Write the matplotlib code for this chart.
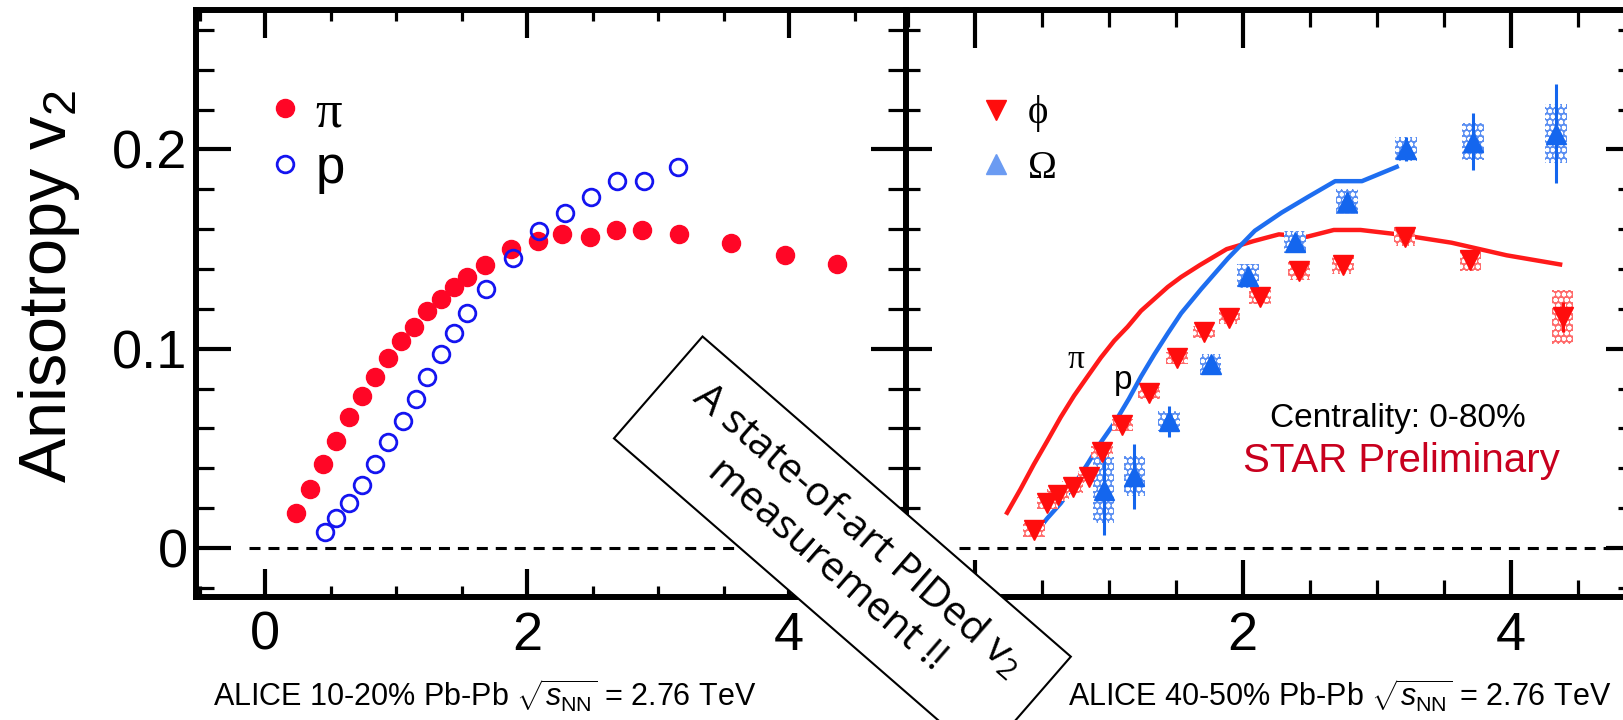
import matplotlib
matplotlib.use("Agg")
import matplotlib.pyplot as plt
from matplotlib.lines import Line2D
from matplotlib.patches import Rectangle
from matplotlib.transforms import IdentityTransform
from matplotlib.ticker import MultipleLocator

plt.rcParams['font.family'] = ['Liberation Sans', 'DejaVu Sans']
plt.rcParams['mathtext.fontset'] = 'custom'
plt.rcParams['mathtext.rm'] = 'Liberation Sans'
plt.rcParams['mathtext.it'] = 'Liberation Sans:italic'
plt.rcParams['mathtext.bf'] = 'Liberation Sans:bold'
plt.rcParams['hatch.linewidth'] = 1.3

# ALICE identified-particle v2 (10-20%)
pt_pi = [0.24, 0.34, 0.44, 0.54, 0.64, 0.74, 0.84, 0.94, 1.04, 1.14, 1.24, 1.34, 1.44,
         1.54, 1.68, 1.88, 2.08, 2.27, 2.48, 2.68, 2.88, 3.16, 3.56, 3.97, 4.37]
v2_pi = [0.0177, 0.0295, 0.042, 0.0537, 0.0656, 0.0764, 0.086, 0.0955, 0.104, 0.111, 0.119,
         0.125, 0.131, 0.136, 0.142, 0.150, 0.154, 0.1574, 0.1562, 0.1596, 0.1596, 0.1574,
         0.1532, 0.1469, 0.1423]
pt_p = [0.46, 0.54, 0.64, 0.74, 0.84, 0.94, 1.05, 1.15, 1.24, 1.34, 1.44, 1.54, 1.69, 1.89,
        2.09, 2.29, 2.49, 2.69, 2.89, 3.15]
v2_p = [0.008, 0.0149, 0.0224, 0.0316, 0.0421, 0.053, 0.0636, 0.0749, 0.086, 0.0972, 0.1077,
        0.1178, 0.130, 0.1454, 0.1592, 0.1683, 0.1763, 0.1841, 0.1841, 0.1913]

# STAR phi and Omega v2 (0-80%)
pt_phi = [0.44, 0.54, 0.62, 0.73, 0.85, 0.95, 1.10, 1.30, 1.51, 1.71, 1.90, 2.13, 2.42,
          2.75, 3.21, 3.70, 4.39]
v2_phi = [0.009, 0.0224, 0.0266, 0.0308, 0.0358, 0.0483, 0.0617, 0.0776, 0.0955, 0.1085,
          0.1152, 0.1261, 0.1391, 0.142, 0.1562, 0.1445, 0.116]
stat_phi = [0.002] * 16 + [0.0075]
sys_phi = [0.0035, 0.003, 0.003, 0.003, 0.003, 0.003, 0.003, 0.003, 0.003, 0.003, 0.003,
           0.0037, 0.0044, 0.0044, 0.0048, 0.0053, 0.0137]

pt_om = [0.96, 1.19, 1.45, 1.76, 2.04, 2.39, 2.78, 3.22, 3.72, 4.34]
v2_om = [0.029, 0.036, 0.0635, 0.0922, 0.1365, 0.1537, 0.1738, 0.2003, 0.204, 0.208]
stat_om = [0.0226, 0.0163, 0.0077, 0.004, 0.004, 0.004, 0.005, 0.0061, 0.0142, 0.025]
sys_om = [0.0167, 0.010, 0.005, 0.0053, 0.006, 0.0056, 0.0063, 0.0059, 0.0092, 0.0146]

RED = '#ff0626'
BLUE = '#1414f0'
LRED = '#ff1a1a'
LBLUE = '#1e6ef0'
PHI_C = '#ff0d0d'
OM_C = '#1466ee'
SERIF = ['Liberation Serif', 'DejaVu Serif']

fig = plt.figure(figsize=(16.23, 7.2), dpi=100)
axL = fig.add_axes([196 / 1623, 1 - 597 / 720, 710 / 1623, 587 / 720])
axR = fig.add_axes([906 / 1623, 1 - 597 / 720, 726 / 1623, 587 / 720])

ylim = (-0.0246, 0.270)


def frame(ax, xlim, xmaj, xmin, ymaj, ymin):
    ax.set_xlim(*xlim)
    ax.set_ylim(*ylim)
    ax.set_xticks([0, 2, 4], ['0', '2', '4'])
    ax.set_yticks([0, 0.1, 0.2], ['0', '0.1', '0.2'])
    ax.xaxis.set_minor_locator(MultipleLocator(0.5))
    ax.yaxis.set_minor_locator(MultipleLocator(0.02))
    for s in ax.spines.values():
        s.set_linewidth(4.3)
    ax.tick_params(which='both', direction='in', top=True, right=True, labelsize=39, pad=6)
    ax.tick_params(axis='x', which='major', length=xmaj, width=3, pad=10)
    ax.tick_params(axis='x', which='minor', length=xmin, width=2.3)
    ax.tick_params(axis='y', which='major', length=ymaj, width=3)
    ax.tick_params(axis='y', which='minor', length=ymin, width=2.3)
    ax.hlines(0, -0.12, xlim[1], colors='black', linewidth=2.2,
              linestyles=(0, (3.6, 2.6)), zorder=1)


frame(axL, (-0.527, 4.893), 20, 8, 25, 13)
frame(axR, (-0.515, 4.907), 27, 12, 19, 10)
axR.tick_params(labelleft=False)

# left panel: ALICE pions and protons
axL.plot(pt_pi, v2_pi, 'o', color=RED, ms=13, mec=RED, zorder=3)
axL.plot(pt_p, v2_p, 'o', mfc='none', mec=BLUE, mew=2, ms=12, zorder=3)
hL = [Line2D([], [], ls='none', marker='o', color=RED, ms=13),
      Line2D([], [], ls='none', marker='o', mfc='none', mec=BLUE, mew=2, ms=12)]
legL = axL.legend(hL, ['π', 'p'], loc='upper left', bbox_to_anchor=(0.11, 0.865),
                  frameon=False, fontsize=38, handlelength=0.43, handletextpad=0.35,
                  labelspacing=0.12, borderpad=0, borderaxespad=0)
legL.get_texts()[0].set_family(SERIF)
axL.set_ylabel(r'Anisotropy $\mathregular{v_2}$', fontsize=48)
axL.yaxis.set_label_coords(-0.16, 0.528)

# right panel: STAR phi / Omega with ALICE curves
axR.plot(pt_pi, v2_pi, '-', color=LRED, lw=3.2, zorder=2)
axR.plot(pt_p, v2_p, '-', color=LBLUE, lw=3.2, zorder=2)
axR.text(0.754, 0.0943, 'π', fontsize=24, family=SERIF, ha='center', va='center')
axR.text(1.108, 0.0843, 'p', fontsize=24, ha='center', va='center')

axR.bar(pt_phi, [2 * s for s in sys_phi], width=0.16,
        bottom=[v - s for v, s in zip(v2_phi, sys_phi)],
        color='#ff6b6b', edgecolor='white', linewidth=0, hatch='ooo', zorder=3)
axR.bar(pt_om, [2 * s for s in sys_om], width=0.16,
        bottom=[v - s for v, s in zip(v2_om, sys_om)],
        color='#5b8ff2', edgecolor='white', linewidth=0, hatch='ooo', zorder=3)
axR.errorbar(pt_phi, v2_phi, yerr=stat_phi, fmt='v', color=PHI_C, ms=14,
             elinewidth=2.2, capsize=0, zorder=4)
axR.errorbar(pt_om, v2_om, yerr=stat_om, fmt='^', color=OM_C, ms=15,
             elinewidth=2.2, capsize=0, zorder=4)

hR = [Line2D([], [], ls='none', marker='v', color=PHI_C, ms=14),
      Line2D([], [], ls='none', marker='^', color='#6b9bf2', ms=14)]
legR = axR.legend(hR, ['ϕ', 'Ω'], loc='upper left', bbox_to_anchor=(0.11, 0.855),
                  frameon=False, handlelength=0.51, handletextpad=0.57,
                  labelspacing=0.45, borderpad=0, borderaxespad=0,
                  prop={'family': SERIF, 'size': 28})

axR.text(0.677, 0.290, 'Centrality: 0-80%', transform=axR.transAxes, fontsize=24,
         ha='center', va='baseline')
axR.text(0.682, 0.2135, 'STAR Preliminary', transform=axR.transAxes, fontsize=29,
         color='#c8001e', ha='center', va='baseline')

fig.text(485 / 1623, 13 / 720, r'ALICE 10-20% Pb-Pb $\sqrt{s_{\mathregular{NN}}}$ = 2.76 TeV',
         fontsize=22, ha='center', va='baseline')
fig.text(1340 / 1623, 13 / 720, r'ALICE 40-50% Pb-Pb $\sqrt{s_{\mathregular{NN}}}$ = 2.76 TeV',
         fontsize=22, ha='center', va='baseline')

# tilted call-out box across both panels (pixel units, origin bottom-left)
cx, cy, bw, bh = 842.4, 172.5, 488, 135
box = Rectangle((cx - bw / 2, cy - bh / 2), bw, bh, angle=-41, rotation_point='center',
                transform=IdentityTransform(), fc='white', ec='black', lw=1.5, zorder=9)
fig.add_artist(box)
fig.text(cx / 1623, cy / 720,
         'A state-of-art PIDed $\\mathregular{v_2}$\nmeasurement !!',
         family='Open Sans', fontsize=29.5, rotation=-41, rotation_mode='anchor',
         ha='center', va='center', multialignment='center', linespacing=1.2, zorder=10)

fig.savefig('out.png', dpi=100)
